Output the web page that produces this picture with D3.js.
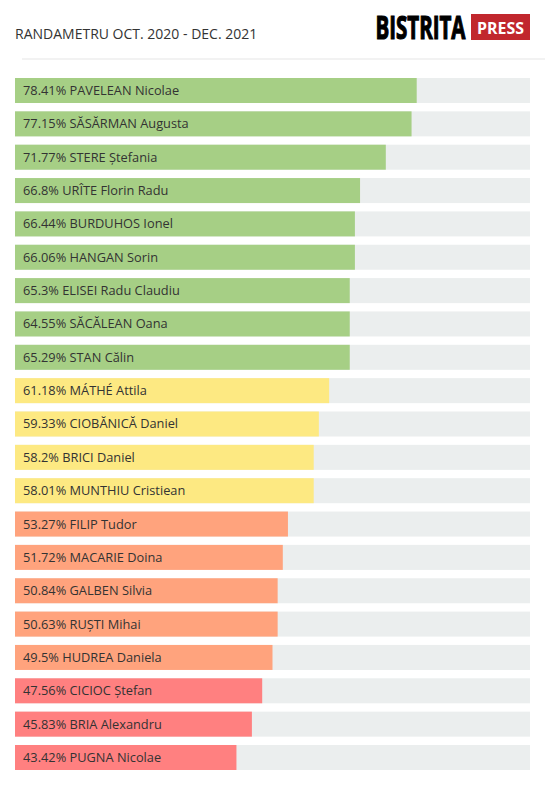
<!DOCTYPE html>
<html>
<head>
<meta charset="utf-8">
<script src="https://cdn.jsdelivr.net/npm/d3@7"></script>
<style>
  body { margin: 0; background: #fff; }
  text { font-family: "Open Sans", sans-serif; }
</style>
</head>
<body>
<script>
// data
const names = ["PAVELEAN Nicolae", "SĂSĂRMAN Augusta", "STERE Ștefania", "URÎTE Florin Radu",
  "BURDUHOS Ionel", "HANGAN Sorin", "ELISEI Radu Claudiu", "SĂCĂLEAN Oana", "STAN Călin",
  "MÁTHÉ Attila", "CIOBĂNICĂ Daniel", "BRICI Daniel", "MUNTHIU Cristiean", "FILIP Tudor",
  "MACARIE Doina", "GALBEN Silvia", "RUȘTI Mihai", "HUDREA Daniela", "CICIOC Ștefan",
  "BRIA Alexandru", "PUGNA Nicolae"];
const scores = ["78.41", "77.15", "71.77", "66.8", "66.44", "66.06", "65.3", "64.55", "65.29",
  "61.18", "59.33", "58.2", "58.01", "53.27", "51.72", "50.84", "50.63", "49.5", "47.56",
  "45.83", "43.42"];
const groups = ["good", "good", "good", "good", "good", "good", "good", "good", "good",
  "mid", "mid", "mid", "mid", "low", "low", "low", "low", "low", "bad", "bad", "bad"];
const groupColors = { good: "#a6cf85", mid: "#fde982", low: "#ffa37d", bad: "#ff8080" };

const W = 545, H = 785;
const svg = d3.select("body").append("svg").attr("width", W).attr("height", H);

// header
svg.append("text")
  .attr("x", 15).attr("y", 39)
  .attr("font-size", 14).attr("fill", "#333")
  .text("RANDAMETRU OCT. 2020 - DEC. 2021");

svg.append("rect").attr("x", 22).attr("y", 58).attr("width", W - 22).attr("height", 2).attr("fill", "#f2f2f2");

// logo - squeeze text horizontally to fit a given width
function logoText(str, x0, y0, size, w, fill, stroke) {
  const t = svg.append("text")
    .attr("font-family", "'Liberation Sans Narrow', 'DejaVu Sans Condensed', sans-serif")
    .attr("font-weight", "bold").attr("font-size", size)
    .attr("fill", fill)
    .text(str);
  if (stroke) t.attr("stroke", fill).attr("stroke-width", stroke);
  const k = w / t.node().getComputedTextLength();
  t.attr("transform", `translate(${x0},${y0}) scale(${k},1)`);
}
logoText("BISTRITA", 375.5, 38.5, 32, 90, "#000", 1.2);
svg.append("rect").attr("x", 471).attr("y", 14).attr("width", 59).attr("height", 26).attr("fill", "#c1272d");
logoText("PRESS", 477, 34, 16, 47, "#fff", 0);

// bars
const x = d3.scaleLinear().domain([0, 100]).range([15, 530]);
const y = d3.scaleBand().domain(d3.range(names.length)).range([78, 770]).paddingInner(0.25).paddingOuter(0);

const rows = svg.selectAll("g.row").data(names).enter().append("g").attr("class", "row");

rows.append("rect")
  .attr("x", x(0)).attr("y", (d, i) => y(i))
  .attr("width", x(100) - x(0)).attr("height", y.bandwidth())
  .attr("fill", "#ebeeee");

rows.append("rect")
  .attr("x", x(0)).attr("y", (d, i) => y(i))
  .attr("width", (d, i) => x(Math.round(+scores[i])) - x(0)).attr("height", y.bandwidth())
  .attr("fill", (d, i) => groupColors[groups[i]]);

rows.append("text")
  .attr("x", x(0) + 8).attr("y", (d, i) => y(i) + y.bandwidth() / 2)
  .attr("dy", "0.35em")
  .attr("font-size", 12.8).attr("fill", "#333")
  .text((d, i) => scores[i] + "% " + d);
</script>
</body>
</html>
